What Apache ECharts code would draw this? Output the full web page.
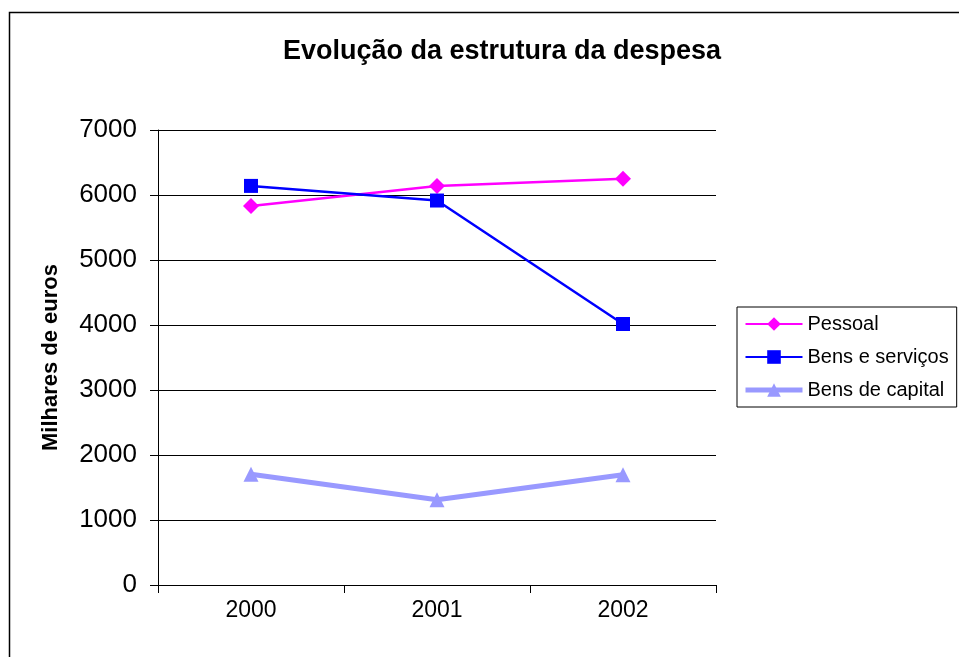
<!DOCTYPE html>
<html>
<head>
<meta charset="utf-8">
<title>Evolução da estrutura da despesa</title>
<script src="https://cdn.jsdelivr.net/npm/echarts@6/dist/echarts.min.js"></script>
<style>
    html, body {
        margin: 0;
        padding: 0;
        background: #fff;
    }
    #chart {
        width: 959px;
        height: 657px;
    }
</style>
</head>
<body>
<div id="chart"></div>
<script>
// dados
const anos = ['2000', '2001', '2002'];
const pessoal = [5830, 6140, 6250];
const bensServicos = [6140, 5915, 4015];
const bensCapital = [1705, 1310, 1695];

const fonte = 'Liberation Sans, Arial, sans-serif';

let myChart = echarts.init(document.getElementById('chart'));
myChart.setOption({
    backgroundColor: '#fff',
    animation: false,
    textStyle: {
        fontFamily: fonte,
    },
    title: {
        text: 'Evolução da estrutura da despesa',
        left: 497,
        textAlign: 'center',
        top: 33,
        textStyle: {
            fontSize: 27,
            fontWeight: 'bold',
            color: '#000',
            fontFamily: fonte,
        },
    },
    graphic: [
        {
            // moldura exterior
            type: 'rect',
            shape: { x: 9.5, y: 12.5, width: 1000, height: 700 },
            style: { fill: 'none', stroke: '#000', lineWidth: 1.5 },
            silent: true,
        },
    ],
    grid: {
        left: 158,
        right: 243,
        top: 130,
        bottom: 72,
    },
    legend: {
        orient: 'vertical',
        left: 737,
        top: 307,
        padding: [7, 8, 7, 6],
        itemWidth: 57,
        itemHeight: 17,
        itemGap: 13,
        borderColor: '#000',
        borderWidth: 1,
        borderRadius: 0,
        textStyle: {
            fontSize: 20,
            color: '#000',
            fontFamily: fonte,
        },
        data: [
            { name: 'Pessoal', lineStyle: { width: 2 } },
            { name: 'Bens e serviços', lineStyle: { width: 2 } },
            { name: 'Bens de capital', lineStyle: { width: 5 } },
        ],
    },
    xAxis: {
        type: 'category',
        data: anos,
        boundaryGap: true,
        axisLine: {
            lineStyle: { color: '#000', width: 1 },
        },
        axisTick: {
            show: true,
            length: 8,
            lineStyle: { color: '#000' },
        },
        axisLabel: {
            fontSize: 23,
            color: '#000',
            margin: 14,
        },
    },
    yAxis: {
        type: 'value',
        min: 0,
        max: 7000,
        interval: 1000,
        name: 'Milhares de euros',
        nameLocation: 'middle',
        nameGap: 96,
        nameTextStyle: {
            fontSize: 22,
            fontWeight: 'bold',
            color: '#000',
            fontFamily: fonte,
        },
        axisLine: {
            show: true,
            lineStyle: { color: '#000', width: 1 },
        },
        axisTick: {
            show: true,
            length: 8,
            lineStyle: { color: '#000' },
        },
        axisLabel: {
            fontSize: 26,
            color: '#000',
            margin: 21,
            formatter: (v) => String(v),
        },
        splitLine: {
            lineStyle: { color: '#000', width: 1 },
        },
    },
    series: [
        {
            name: 'Pessoal',
            type: 'line',
            data: pessoal,
            symbol: 'diamond',
            symbolSize: 16,
            color: '#FF00FF',
            lineStyle: { width: 2.5, color: '#FF00FF' },
            itemStyle: { color: '#FF00FF' },
            z: 3,
        },
        {
            name: 'Bens e serviços',
            type: 'line',
            data: bensServicos,
            symbol: 'rect',
            symbolSize: 14,
            color: '#0000FF',
            lineStyle: { width: 2.5, color: '#0000FF' },
            itemStyle: { color: '#0000FF' },
            z: 3,
        },
        {
            name: 'Bens de capital',
            type: 'line',
            data: bensCapital,
            symbol: 'triangle',
            symbolSize: 15,
            color: '#9999FF',
            lineStyle: { width: 5, color: '#9999FF' },
            itemStyle: { color: '#9999FF' },
            z: 2,
        },
    ],
});
</script>
</body>
</html>
